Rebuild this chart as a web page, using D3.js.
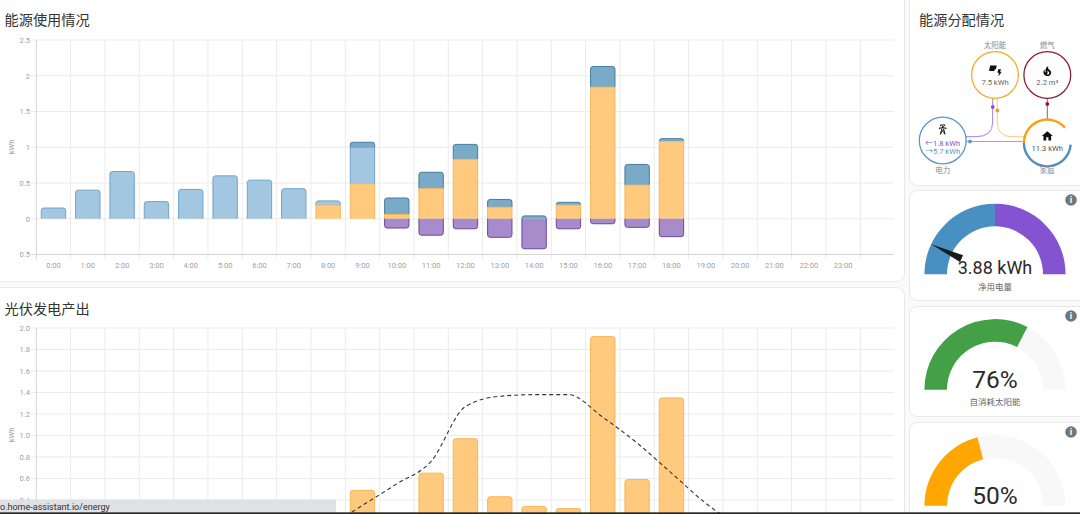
<!DOCTYPE html>
<html>
<head>
<meta charset="utf-8">
<script src="https://cdn.jsdelivr.net/npm/d3@7"></script>
<style>
  html, body { margin: 0; padding: 0; background: #fafafa; overflow: hidden; }
  svg { display: block; }
  text { font-family: Roboto, "Noto Sans CJK SC", sans-serif; }
</style>
</head>
<body>
<svg id="chart" width="1080" height="514"></svg>
<script>
const hours = d3.range(0, 25);
const hourLabels = hours.map((h) => (h < 24 ? `${h}:00` : ""));

// upper chart, kWh per hour (0:00 - 18:00)
const solarUsed = [0, 0, 0, 0, 0, 0, 0, 0, 0.19, 0.49, 0.06, 0.42, 0.83, 0.16, 0, 0.19, 1.84, 0.47, 1.08];
const gridUsed = [0.15, 0.4, 0.66, 0.24, 0.41, 0.6, 0.54, 0.42, 0.06, 0.51, 0, 0, 0, 0, 0, 0, 0, 0, 0];
const gridMixed = [0, 0, 0, 0, 0, 0, 0, 0, 0, 0.07, 0.23, 0.23, 0.21, 0.11, 0.04, 0.04, 0.29, 0.29, 0.04];
const returned = [0, 0, 0, 0, 0, 0, 0, 0, 0, 0, 0.13, 0.23, 0.14, 0.26, 0.42, 0.14, 0.07, 0.12, 0.25];
const usageTicks = [-0.5, 0, 0.5, 1, 1.5, 2, 2.5];

// lower chart
const solarProduced = [0, 0, 0, 0, 0, 0, 0, 0, 0.19, 0.49, 0.06, 0.65, 0.97, 0.43, 0.34, 0.32, 1.92, 0.59, 1.35];
const forecastHours = [8, 9, 10, 11, 12, 13, 14, 15, 16, 17, 18, 19, 20];
const forecast = [0.15, 0.35, 0.55, 0.76, 1.27, 1.365, 1.38, 1.38, 1.17, 0.93, 0.65, 0.37, 0.15];
const productionTicks = [0, 0.2, 0.4, 0.6, 0.8, 1, 1.2, 1.4, 1.6, 1.8, 2];

// gauges
const netValue = -3.88;
const netRange = [-5.39, 5.39];
const gaugeLabels = ["净用电量", "自消耗太阳能", ""];
const gaugeTexts = ["3.88 kWh", "76%", "50%"];
const selfUseSweep = 0.652;
const autarkySweep = 0.42;

const COLOR_GRID = "#a3c6e1", COLOR_GRID_LINE = "#6fa5cb";
const COLOR_MIXED = "#79aac8", COLOR_MIXED_LINE = "#467c9f";
const COLOR_SOLAR = "#ffca7e", COLOR_SOLAR_LINE = "#f9b655";
const COLOR_RETURN = "#a78bcb", COLOR_RETURN_LINE = "#6a489f";

const svg = d3.select("#chart");

const card = (x, y, w, h) =>
  svg.append("rect").attr("x", x + 0.5).attr("y", y + 0.5).attr("width", w).attr("height", h)
    .attr("rx", 8).attr("fill", "#fff").attr("stroke", "#e8e8e8");

card(-12, -12, 916, 293);
card(-12, 287, 916, 260);
card(909, -12, 180, 197);
card(909, 190, 180, 110);
card(909, 306, 180, 110);
card(909, 422, 180, 120);

const title = (x, y, t) =>
  svg.append("text").attr("x", x).attr("y", y).attr("font-size", 14.2).attr("fill", "#333").text(t);

title(4.5, 25, "能源使用情况");
title(4.5, 314, "光伏发电产出");
title(919, 25, "能源分配情况");

const x = d3.scaleBand().domain(hours).range([36.3, 894.6]).paddingInner(0.29).paddingOuter(0.145);
const step = x.step();
const bandLeft = (h) => x(h) - step * 0.145;

const drawFrame = (y, ticks, fmt, top, bottom, showX) => {
  const g = svg.append("g");
  g.selectAll(".hgrid").data(ticks).join("line")
    .attr("x1", 31).attr("x2", 894)
    .attr("y1", (d) => y(d)).attr("y2", (d) => y(d))
    .attr("stroke", "#ebebeb");
  g.selectAll(".vgrid").data(hours).join("line")
    .attr("x1", (d) => bandLeft(d)).attr("x2", (d) => bandLeft(d))
    .attr("y1", top).attr("y2", bottom + 5)
    .attr("stroke", (d) => (d === 0 ? "#d5d5d5" : "#ebebeb"));
  // labels below the window edge are not drawn
  g.selectAll(".ylabel").data(ticks.filter((d) => y(d) < 505)).join("text")
    .attr("x", 30).attr("y", (d) => y(d) + 2.8)
    .attr("text-anchor", "end").attr("font-size", 7.5).attr("fill", "#a0a0a0")
    .text(fmt);
  g.append("text")
    .attr("transform", `translate(13.5,${showX ? 147 : 435}) rotate(-90)`)
    .attr("text-anchor", "middle").attr("font-size", 7.5).attr("fill", "#a0a0a0")
    .text("kWh");
  if (showX) {
    g.append("line").attr("x1", 31).attr("x2", 894).attr("y1", bottom).attr("y2", bottom).attr("stroke", "#d5d5d5");
    g.selectAll(".xlabel").data(hours).join("text")
      .attr("x", (d) => x(d) + x.bandwidth() / 2).attr("y", 267.5)
      .attr("text-anchor", "middle").attr("font-size", 7.5).attr("fill", "#a0a0a0")
      .text((d, i) => hourLabels[i]);
  }
};

// outline of a bar, left open on the side that sits on the stack below or the zero line
const barPath = (x0, w, yStart, yEnd, round, closed) => {
  const dir = yEnd < yStart ? -1 : 1;
  const r = round ? Math.min(2.5, Math.abs(yEnd - yStart)) : 0;
  const p = d3.path();
  p.moveTo(x0, yStart);
  p.lineTo(x0, yEnd - dir * r);
  if (r) p.quadraticCurveTo(x0, yEnd, x0 + r, yEnd);
  p.lineTo(x0 + w - r, yEnd);
  if (r) p.quadraticCurveTo(x0 + w, yEnd, x0 + w, yEnd - dir * r);
  p.lineTo(x0 + w, yStart);
  if (closed) p.closePath();
  return p.toString();
};

const drawBar = (g, d, fill, stroke) => {
  g.append("path").attr("d", barPath(d.x0, d.w, d.yStart, d.yEnd, d.round, true)).attr("fill", fill);
  g.append("path").attr("d", barPath(d.x0, d.w, d.yStart, d.yEnd, d.round, false))
    .attr("fill", "none").attr("stroke", stroke);
};

// ---- upper chart
const yUsage = d3.scaleLinear().domain([-0.5, 2.5]).range([254.5, 40]);
drawFrame(yUsage, usageTicks, (d) => String(Math.abs(d)), 40, 254.5, true);

const usageRows = solarUsed.map((s, i) => ({ hour: i, solar: s, grid: gridUsed[i], mixed: gridMixed[i] }));
const usageKeys = ["solar", "grid", "mixed"];
const fills = { solar: COLOR_SOLAR, grid: COLOR_GRID, mixed: COLOR_MIXED };
const strokes = { solar: COLOR_SOLAR_LINE, grid: COLOR_GRID_LINE, mixed: COLOR_MIXED_LINE };
const stacked = d3.stack().keys(usageKeys)(usageRows);

// top layers first, so the orange top edge stays visible
const usageG = svg.append("g");
stacked.slice().reverse().forEach((layer) => {
  const idx = usageKeys.indexOf(layer.key);
  layer.filter((d) => d[1] > d[0]).forEach((d) => {
    drawBar(usageG, {
      x0: x(d.data.hour),
      w: x.bandwidth(),
      yStart: yUsage(d[0]),
      yEnd: yUsage(d[1]),
      round: usageKeys.slice(idx + 1).every((k) => d.data[k] === 0),
    }, fills[layer.key], strokes[layer.key]);
  });
});

returned.forEach((v, i) => {
  if (v > 0) {
    drawBar(usageG, { x0: x(i), w: x.bandwidth(), yStart: yUsage(0), yEnd: yUsage(-v), round: true }, COLOR_RETURN, COLOR_RETURN_LINE);
  }
});

// ---- lower chart
const yProd = d3.scaleLinear().domain([0, 2]).range([543, 328]);
drawFrame(yProd, productionTicks, (d) => d.toFixed(1), 328, 543, false);

const prodG = svg.append("g");
solarProduced.forEach((v, i) => {
  if (v > 0) {
    drawBar(prodG, { x0: x(i), w: x.bandwidth(), yStart: yProd(0), yEnd: yProd(v), round: true }, COLOR_SOLAR, COLOR_SOLAR_LINE);
  }
});

const forecastLine = d3.line()
  .x((d, i) => x(forecastHours[i]) + x.bandwidth() / 2)
  .y((d) => yProd(d))
  .curve(d3.curveMonotoneX);

svg.append("path").datum(forecast)
  .attr("d", forecastLine)
  .attr("fill", "none").attr("stroke", "#333").attr("stroke-width", 1.1)
  .attr("stroke-dasharray", "4,3");

// ---- flow card
const flowG = svg.append("g");
const C_SOLAR = "#f9a825", C_GAS = "#8e1b3a", C_GRID = "#5b97c4", C_RET = "#8353d1";

const flowLine = (d, color) =>
  flowG.append("path").attr("d", d).attr("fill", "none").attr("stroke", color).attr("stroke-width", 1).attr("opacity", 0.75);
const flowDot = (cx, cy, color) =>
  flowG.append("circle").attr("cx", cx).attr("cy", cy).attr("r", 1.9).attr("fill", color);

flowLine("M992.7,98V122Q992.7,136.7 976,136.7H966", C_RET);
flowLine("M997.3,98V122Q997.3,136.7 1012,136.7H1024", "#fbb84d");
flowLine("M966,141.5H1024", C_GRID);
flowLine("M1047.3,98V120", C_GAS);
flowDot(992.7, 107, C_RET);
flowDot(997.3, 110.5, "#f79a1c");
flowDot(970, 141.5, C_GRID);
flowDot(1047.3, 104, C_GAS);

const node = (cx, cy, color, width) =>
  flowG.append("circle").attr("cx", cx).attr("cy", cy).attr("r", 23.4)
    .attr("fill", "#fff").attr("stroke", color).attr("stroke-width", width);

node(995, 75, C_SOLAR, 1.3);
node(1047.3, 75, C_GAS, 1.3);
node(942.7, 140.5, C_GRID, 1.3);

const homeArc = d3.arc().innerRadius(22.2).outerRadius(24.6);
const deg = (a) => (a * Math.PI) / 180;
flowG.append("circle").attr("cx", 1047.3).attr("cy", 143).attr("r", 23.4).attr("fill", "#fff");
flowG.append("path").attr("transform", "translate(1047.3,143)")
  .attr("d", homeArc({ startAngle: deg(270), endAngle: deg(409) })).attr("fill", "#fb9f12");
flowG.append("path").attr("transform", "translate(1047.3,143)")
  .attr("d", homeArc({ startAngle: deg(94), endAngle: deg(270) })).attr("fill", "#4d8fbd");

const flowText = (tx, ty, size, color, t) =>
  flowG.append("text").attr("x", tx).attr("y", ty).attr("text-anchor", "middle")
    .attr("font-size", size).attr("fill", color).text(t);

flowText(995, 47.5, 7.5, "#888", "太阳能");
flowText(1047.3, 47.5, 7.5, "#888", "燃气");
flowText(942.7, 173, 7.5, "#888", "电力");
flowText(1047.3, 173, 7.5, "#888", "家庭");
flowText(995, 85, 7.6, "#666", "7.5 kWh");
flowText(1047.3, 85, 7.6, "#666", "2.2 m³");
flowText(942.7, 145.5, 7.6, C_RET, "←1.8 kWh");
flowText(942.7, 154, 7.6, C_GRID, "→5.7 kWh");
flowText(1047.3, 150.5, 7.6, "#555", "11.3 kWh");

const icon = (d, tx, ty, s) =>
  flowG.append("path").attr("d", d).attr("transform", `translate(${tx},${ty}) scale(${s})`).attr("fill", "#111");

icon("M10,20V14H14V20H19V12H22L12,3L2,12H5V20H10Z", 1040.7, 129.5, 0.55);
icon("M17.66 11.2C17.43 10.9 17.15 10.64 16.89 10.38C16.22 9.78 15.46 9.35 14.82 8.72C13.33 7.26 13 4.85 13.95 3C13 3.23 12.17 3.75 11.46 4.32C8.87 6.4 7.85 10.07 9.07 13.22C9.11 13.32 9.15 13.42 9.15 13.55C9.15 13.77 9 13.97 8.8 14.05C8.57 14.15 8.33 14.09 8.14 13.93C8.08 13.88 8.04 13.83 8 13.76C6.87 12.33 6.69 10.28 7.45 8.64C5.78 10 4.87 12.3 5 14.47C5.06 14.97 5.12 15.47 5.29 15.97C5.43 16.57 5.7 17.17 6 17.7C7.08 19.43 8.95 20.67 10.96 20.92C13.1 21.19 15.39 20.8 17.03 19.32C18.86 17.66 19.5 15 18.56 12.72L18.43 12.46C18.28 12.13 17.66 11.2 17.66 11.2M14.5 17.5C14.22 17.74 13.76 18 13.4 18.1C12.28 18.5 11.16 17.94 10.5 17.28C11.69 17 12.4 16.12 12.61 15.23C12.78 14.43 12.46 13.77 12.33 13C12.21 12.26 12.23 11.63 12.5 10.94C12.69 11.32 12.89 11.7 13.13 12C13.9 13 15.11 13.44 15.37 14.8C15.41 14.94 15.43 15.08 15.43 15.23C15.46 16.05 15.1 16.95 14.5 17.5H14.5Z", 1040.7, 64.5, 0.55);
icon("M8.28,5.45L6.5,4.55L7.76,2H16.23L17.5,4.55L15.72,5.44L15,4H9L8.28,5.45M18.62,8H14.09L13.3,5H10.7L9.91,8H5.38L4.1,10.55L5.89,11.44L6.62,10H17.38L18.1,11.45L19.89,10.56L18.62,8M17.77,22H15.7L15.46,21.1L12,15.9L8.53,21.1L8.3,22H6.23L9.12,11H11.19L10.83,12.35L12,14.1L13.16,12.35L12.81,11H14.88L17.77,22M11.4,15L10.5,13.65L9.32,18.13L11.4,15M14.68,18.12L13.5,13.64L12.6,15L14.68,18.12Z", 936.7, 123.5, 0.5);
// solar panel with a bolt
icon("M3,2H15L13.5,8.5H11.5L10.5,12H1Z", 988.5, 64.5, 0.55);
icon("M11,7.5H15.5L13.6,11.5H16.5L11,19.5L12,13.5H9.5Z", 991.5, 64.5, 0.62);

// ---- gauges
const gaugeAngle = d3.scaleLinear().domain([0, 1]).range([-Math.PI / 2, Math.PI / 2]);
const gaugeArc = d3.arc().innerRadius(48).outerRadius(70.6);

const drawGauge = (cy, segments) => {
  const g = svg.append("g").attr("transform", `translate(995,${cy})`);
  g.selectAll("path").data(segments).join("path")
    .attr("d", (d) => gaugeArc({ startAngle: gaugeAngle(d.from), endAngle: gaugeAngle(d.to) }))
    .attr("fill", (d) => d.color);
  return g;
};

const trackColor = "#f8f8f8";
const g1 = drawGauge(274.3, [
  { from: 0, to: 0.5, color: "#488fc2" },
  { from: 0.5, to: 1, color: "#8353d1" },
]);
const g2 = drawGauge(389.7, [
  { from: 0, to: 1, color: trackColor },
  { from: 0, to: selfUseSweep, color: "#43a047" },
]);
const g3 = drawGauge(505.7, [
  { from: 0, to: 1, color: trackColor },
  { from: 0, to: autarkySweep, color: "#ffa600" },
]);

// needle
const netScale = d3.scaleLinear().domain(netRange).range([0, 180]);
g1.append("path")
  .attr("d", "M-37,-3.7L-70.6,0L-37,3.7Z")
  .attr("transform", `rotate(${netScale(netValue)})`)
  .attr("fill", "#1a1a1a");

[g1, g2, g3].forEach((g, i) => {
  g.append("text").attr("text-anchor", "middle").attr("y", i === 0 ? -0.5 : -1.5)
    .attr("font-size", i === 0 ? 18 : 24.5).attr("fill", "#2a2a2a").text(gaugeTexts[i]);
  if (gaugeLabels[i]) {
    g.append("text").attr("text-anchor", "middle").attr("y", 15.5)
      .attr("font-size", 8.5).attr("fill", "#666").text(gaugeLabels[i]);
  }
});

[200, 316, 432].forEach((cy) => {
  svg.append("circle").attr("cx", 1071).attr("cy", cy).attr("r", 5.8).attr("fill", "#757575");
  svg.append("text").attr("x", 1071).attr("y", cy + 3.2).attr("text-anchor", "middle")
    .attr("font-size", 9).attr("font-weight", 700).attr("fill", "#fff").text("i");
});

// ---- browser status bubble and window edge
svg.append("rect").attr("x", 0).attr("y", 499.5).attr("width", 336).attr("height", 13).attr("fill", "#dee1e6");
svg.append("text").attr("x", 0).attr("y", 509.5).attr("font-size", 9).attr("fill", "#333").text("o.home-assistant.io/energy");
svg.append("rect").attr("x", 0).attr("y", 512.3).attr("width", 1080).attr("height", 2).attr("fill", "#2b2b2b");
</script>
</body>
</html>
